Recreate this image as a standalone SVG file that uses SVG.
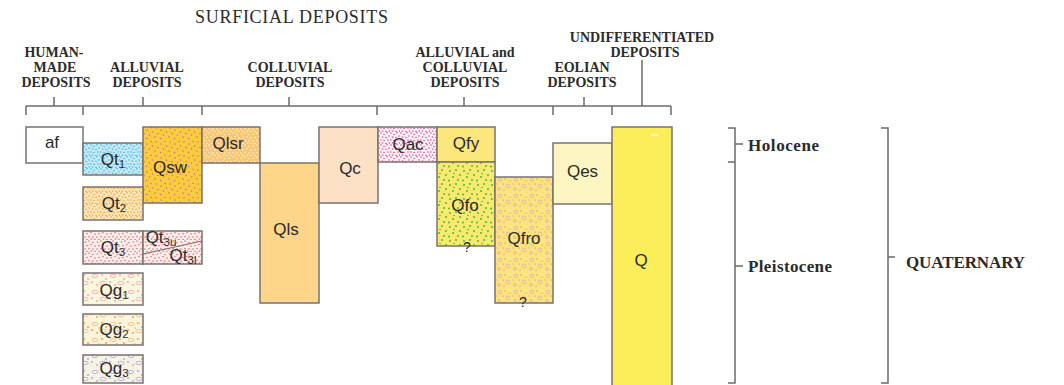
<svg xmlns="http://www.w3.org/2000/svg" width="1064" height="385" viewBox="0 0 1064 385">
<style>
.box{stroke:#7a7272;stroke-width:1.5}
.lbl{font-family:"Liberation Sans",Arial,sans-serif;font-size:17px;fill:#2a2a2a;text-anchor:middle}
.sub{font-size:11.5px}
.cat{font-family:"Liberation Serif","Times New Roman",serif;font-size:14px;font-weight:bold;fill:#2b2b2b;text-anchor:middle}
.title{font-family:"Liberation Serif","Times New Roman",serif;font-size:18px;fill:#2b2b2b;text-anchor:middle}
.age{font-family:"Liberation Serif","Times New Roman",serif;font-size:17px;font-weight:bold;fill:#2b2b2b}
.ln{stroke:#6e6a6a;stroke-width:1.5;fill:none}
.q{font-family:"Liberation Sans",Arial,sans-serif;font-size:14px;fill:#2a2a2a;text-anchor:middle}
</style>
<defs>
<g id="dotsA">
<circle cx="1.5" cy="2" r="0.85"/><circle cx="5" cy="1" r="0.85"/><circle cx="9" cy="2.5" r="0.85"/><circle cx="3" cy="5.5" r="0.85"/><circle cx="7" cy="4.5" r="0.85"/><circle cx="11" cy="6" r="0.85"/><circle cx="1" cy="9" r="0.85"/><circle cx="5" cy="8.5" r="0.85"/><circle cx="9" cy="9" r="0.85"/><circle cx="3" cy="11.5" r="0.85"/><circle cx="7.5" cy="11" r="0.85"/><circle cx="11" cy="11.5" r="0.85"/>
</g>
<g id="dotsD">
<circle cx="1" cy="1" r="0.8"/><circle cx="4" cy="2.5" r="0.8"/><circle cx="7" cy="0.8" r="0.8"/><circle cx="2.5" cy="5" r="0.8"/><circle cx="6" cy="5.5" r="0.8"/><circle cx="9" cy="4" r="0.8"/><circle cx="0.8" cy="8" r="0.8"/><circle cx="4" cy="8.5" r="0.8"/><circle cx="8" cy="8" r="0.8"/><circle cx="2.5" cy="11" r="0.8"/><circle cx="6" cy="11.5" r="0.8"/><circle cx="9.5" cy="11" r="0.8"/>
</g>
<g id="dotsB">
<circle cx="2" cy="2" r="0.75"/><circle cx="7" cy="4" r="0.75"/><circle cx="4" cy="7.5" r="0.75"/><circle cx="9.5" cy="9" r="0.75"/><circle cx="11" cy="1.5" r="0.75"/><circle cx="1" cy="11" r="0.75"/><circle cx="6.5" cy="12.5" r="0.75"/><circle cx="12.5" cy="6" r="0.75"/>
</g>
<g id="dotsC">
<circle cx="2" cy="3" r="1"/><circle cx="8" cy="2" r="1"/><circle cx="12" cy="7" r="1"/><circle cx="5" cy="9" r="1"/><circle cx="10" cy="12" r="1"/><circle cx="1" cy="12.5" r="1"/><circle cx="6" cy="5.5" r="0.8"/>
</g>
<pattern id="p-qt1" width="10" height="12" patternUnits="userSpaceOnUse"><rect width="10" height="12" fill="#c6e8f3"/><g fill="#3db5e4"><use href="#dotsD"/></g></pattern>
<pattern id="p-qsw" width="14" height="14" patternUnits="userSpaceOnUse"><rect width="14" height="14" fill="#f7cd3e"/><g fill="#e55a9e"><use href="#dotsB"/></g></pattern>
<pattern id="p-qt2" width="10" height="12" patternUnits="userSpaceOnUse"><rect width="10" height="12" fill="#fbe6bc"/><g fill="#f0a030"><use href="#dotsD"/></g></pattern>
<pattern id="p-qt3" width="12" height="12" patternUnits="userSpaceOnUse"><rect width="12" height="12" fill="#fdf0e4"/><g fill="#ec6aa6"><use href="#dotsA"/></g></pattern>
<pattern id="p-qlsr" width="12" height="12" patternUnits="userSpaceOnUse"><rect width="12" height="12" fill="#f8c676"/><g fill="#fff3dd"><use href="#dotsA"/></g></pattern>
<pattern id="p-qac" width="10" height="12" patternUnits="userSpaceOnUse"><rect width="10" height="12" fill="#fbf0f3"/><g fill="#e14e9a"><use href="#dotsD"/></g></pattern>
<pattern id="p-qfo" width="14" height="14" patternUnits="userSpaceOnUse"><rect width="14" height="14" fill="#f7ea6c"/><g fill="#4cb74a"><use href="#dotsC"/></g></pattern>
<pattern id="p-qfro" width="16" height="16" patternUnits="userSpaceOnUse"><rect width="16" height="16" fill="#fae77a"/><g fill="none" stroke="#ef9fc4" stroke-width="0.8"><circle cx="4" cy="4" r="1.8"/><circle cx="12" cy="10" r="2"/><circle cx="3" cy="13" r="1.4"/></g><g fill="#ec8cbc"><circle cx="9" cy="3" r="0.8"/><circle cx="14" cy="5" r="0.7"/><circle cx="7" cy="8" r="0.8"/><circle cx="1" cy="8" r="0.7"/><circle cx="8" cy="14" r="0.8"/></g></pattern>
<pattern id="p-qg1" width="18" height="16" patternUnits="userSpaceOnUse"><rect width="18" height="16" fill="#fdf7dc"/><g fill="none" stroke="#f0a2c6" stroke-width="0.8"><ellipse cx="5" cy="4" rx="3" ry="1.6"/><ellipse cx="13" cy="11" rx="3.2" ry="1.7"/></g><g fill="#ea6aa8"><circle cx="12" cy="3" r="0.8"/><circle cx="2" cy="10" r="0.8"/><circle cx="7" cy="13" r="0.8"/><circle cx="16" cy="7" r="0.8"/></g></pattern>
<pattern id="p-qg2" width="18" height="16" patternUnits="userSpaceOnUse"><rect width="18" height="16" fill="#fdf4dc"/><g fill="none" stroke="#f4b978" stroke-width="0.8"><ellipse cx="5" cy="4" rx="3" ry="1.6"/><ellipse cx="13" cy="11" rx="3.2" ry="1.7"/></g><g fill="#f19a32"><circle cx="12" cy="3" r="0.9"/><circle cx="2" cy="10" r="0.9"/><circle cx="7" cy="13" r="0.9"/><circle cx="16" cy="7" r="0.9"/><circle cx="9" cy="8" r="0.7"/></g></pattern>
<pattern id="p-qg3" width="18" height="16" patternUnits="userSpaceOnUse"><rect width="18" height="16" fill="#f7f3e4"/><g fill="none" stroke="#a9a6df" stroke-width="0.8"><ellipse cx="5" cy="4" rx="3" ry="1.6"/><ellipse cx="13" cy="11" rx="3.2" ry="1.7"/></g><g fill="#7f7ad2"><circle cx="12" cy="3" r="0.8"/><circle cx="2" cy="10" r="0.8"/><circle cx="7" cy="13" r="0.8"/><circle cx="16" cy="7" r="0.8"/></g></pattern>
</defs>
<rect width="1064" height="385" fill="#ffffff"/>

<!-- headings -->
<text class="title" x="291.5" y="23" textLength="193" lengthAdjust="spacing">SURFICIAL DEPOSITS</text>
<g id="hdr-human"><text class="cat" x="54" y="57">HUMAN-</text><text class="cat" x="55" y="72">MADE</text><text class="cat" x="56" y="87">DEPOSITS</text></g>
<g id="hdr-alluvial"><text class="cat" x="147" y="72">ALLUVIAL</text><text class="cat" x="147" y="87">DEPOSITS</text></g>
<g id="hdr-colluvial"><text class="cat" x="290" y="72">COLLUVIAL</text><text class="cat" x="290" y="87">DEPOSITS</text></g>
<g id="hdr-allcoll"><text class="cat" x="465" y="57">ALLUVIAL and</text><text class="cat" x="465" y="72">COLLUVIAL</text><text class="cat" x="465" y="87">DEPOSITS</text></g>
<g id="hdr-eolian"><text class="cat" x="582" y="72">EOLIAN</text><text class="cat" x="582" y="87">DEPOSITS</text></g>
<g id="hdr-undiff"><text class="cat" x="642" y="42">UNDIFFERENTIATED</text><text class="cat" x="645" y="57">DEPOSITS</text></g>

<!-- connectors / brackets -->
<g id="connectors" class="ln">
<path d="M26 106H671"/>
<path d="M26 106V115M83 106V115M202 106V115M377 106V115M553 106V115M612 106V115M671 106V115"/>
<path d="M54 106V97M143 106V97M289 106V97M464 106V97M584 106V97M642 106V60"/>
<path d="M728 128H735V383H728M728 162H735M735 144H743M735 266H743"/>
<path d="M881 128H888V383H881M888 257H895"/>
</g>

<!-- units -->
<g id="af"><rect class="box" x="26" y="127" width="57" height="36" fill="#ffffff"/><text class="lbl" x="52" y="148">af</text></g>
<g id="Qt1"><rect class="box" x="83" y="143" width="60" height="32" fill="url(#p-qt1)"/><text class="lbl" x="113" y="165">Qt<tspan class="sub" dy="3">1</tspan></text></g>
<g id="Qsw"><rect class="box" x="143" y="127" width="59" height="76" fill="url(#p-qsw)"/><text class="lbl" x="170" y="173">Qsw</text></g>
<g id="Qt2"><rect class="box" x="83" y="187" width="60" height="33" fill="url(#p-qt2)"/><text class="lbl" x="114" y="209">Qt<tspan class="sub" dy="3">2</tspan></text></g>
<g id="Qt3"><rect class="box" x="83" y="231" width="60" height="33" fill="url(#p-qt3)"/><text class="lbl" x="113" y="253">Qt<tspan class="sub" dy="3">3</tspan></text></g>
<g id="Qt3u-Qt3l"><rect class="box" x="143" y="231" width="59" height="33" fill="url(#p-qt3)"/><line x1="143" y1="254" x2="202" y2="241" stroke="#7a7272" stroke-width="1.2"/><text class="lbl" x="161" y="243" font-size="16">Qt<tspan class="sub" dy="2.5" font-size="10.5">3u</tspan></text><text class="lbl" x="183" y="261" font-size="16">Qt<tspan class="sub" dy="2.5" font-size="10.5">3l</tspan></text></g>
<g id="Qg1"><rect class="box" x="83" y="273" width="60" height="32" fill="url(#p-qg1)"/><text class="lbl" x="114" y="296">Qg<tspan class="sub" dy="3">1</tspan></text></g>
<g id="Qg2"><rect class="box" x="83" y="314" width="60" height="31" fill="url(#p-qg2)"/><text class="lbl" x="114" y="335">Qg<tspan class="sub" dy="3">2</tspan></text></g>
<g id="Qg3"><rect class="box" x="83" y="355" width="60" height="28" fill="url(#p-qg3)"/><text class="lbl" x="114" y="374">Qg<tspan class="sub" dy="3">3</tspan></text></g>
<g id="Qlsr"><rect class="box" x="202" y="127" width="58" height="36" fill="url(#p-qlsr)"/><text class="lbl" x="228" y="149">Qlsr</text></g>
<g id="Qls"><rect class="box" x="260" y="163" width="59" height="140" fill="#fdd68a"/><text class="lbl" x="286" y="235">Qls</text></g>
<g id="Qc"><rect class="box" x="319" y="127" width="59" height="76" fill="#fde1c7"/><text class="lbl" x="350" y="174">Qc</text></g>
<g id="Qac"><rect class="box" x="378" y="127" width="59" height="35" fill="url(#p-qac)"/><text class="lbl" x="408" y="150">Qac</text></g>
<g id="Qfy"><rect class="box" x="437" y="127" width="58" height="35" fill="#fbe77c"/><text class="lbl" x="466" y="149">Qfy</text></g>
<g id="Qfo"><rect class="box" x="437" y="162" width="58" height="84" fill="url(#p-qfo)"/><text class="lbl" x="465" y="211">Qfo</text><text class="q" x="467" y="252">?</text></g>
<g id="Qfro"><rect class="box" x="495" y="177" width="58" height="126" fill="url(#p-qfro)"/><text class="lbl" x="524" y="244">Qfro</text><text class="q" x="523" y="307">?</text></g>
<g id="Qes"><rect class="box" x="553" y="143" width="59" height="61" fill="#fdf5c2"/><text class="lbl" x="582.5" y="177">Qes</text></g>
<g id="Q"><rect class="box" x="612" y="127" width="60" height="260" fill="#fcee5a"/><line x1="651" y1="135" x2="658" y2="135" stroke="#ffffff" stroke-width="1.5"/><text class="lbl" x="641" y="266">Q</text></g>

<!-- time labels -->
<g id="Holocene"><text class="age" x="748" y="151" textLength="71" lengthAdjust="spacing">Holocene</text></g>
<g id="Pleistocene"><text class="age" x="748" y="272" textLength="84" lengthAdjust="spacing">Pleistocene</text></g>
<g id="Quaternary"><text class="age" x="906" y="268" font-size="16.5" textLength="119" lengthAdjust="spacing">QUATERNARY</text></g>
</svg>
